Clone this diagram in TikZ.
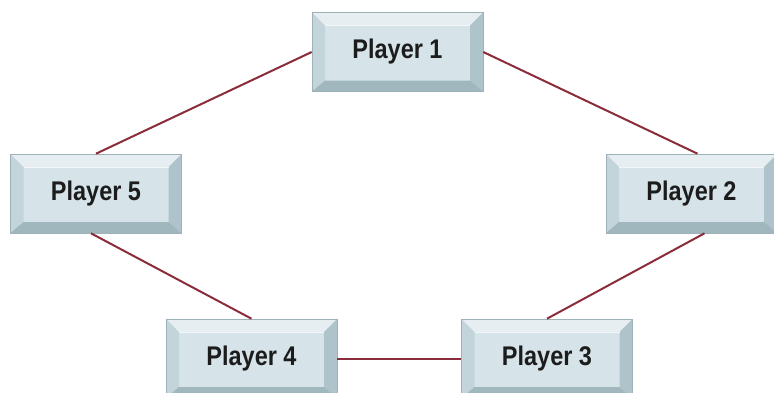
\documentclass[tikz,border=0pt]{standalone}
\usepackage{fontspec}
\setmainfont{Liberation Sans}
\newfontfamily\labelfont[FakeStretch=0.87]{Liberation Sans}
\usetikzlibrary{calc}
\definecolor{face}{HTML}{D6E4E9}
\definecolor{bevtop}{HTML}{E6EEF1}
\definecolor{bevleft}{HTML}{C3D5DA}
\definecolor{bevright}{HTML}{AEC4CA}
\definecolor{bevbot}{HTML}{9FB7BD}
\definecolor{rim}{HTML}{9DB2B8}
\definecolor{link}{HTML}{8A2C3A}
\definecolor{ink}{HTML}{1C1C1C}
\tikzset{
  keycap/.style={
    rectangle, minimum width=171pt, minimum height=79pt, inner sep=0pt,
    draw=rim, line width=0.6pt, fill=face,
    font=\labelfont\bfseries\fontsize{27}{30}\selectfont, text=ink,
    path picture={
      \coordinate (nw) at (path picture bounding box.north west);
      \coordinate (ne) at (path picture bounding box.north east);
      \coordinate (sw) at (path picture bounding box.south west);
      \coordinate (se) at (path picture bounding box.south east);
      \coordinate (inw) at ($(nw)+(13pt,-13pt)$);
      \coordinate (ine) at ($(ne)+(-13pt,-13pt)$);
      \coordinate (isw) at ($(sw)+(13pt,11pt)$);
      \coordinate (ise) at ($(se)+(-13pt,11pt)$);
      \fill[bevtop] (nw) -- (ne) -- (ine) -- (inw) -- cycle;
      \fill[bevleft] (nw) -- (inw) -- (isw) -- (sw) -- cycle;
      \fill[bevright] (ne) -- (ine) -- (ise) -- (se) -- cycle;
      \fill[bevbot] (sw) -- (isw) -- (ise) -- (se) -- cycle;
      \draw[white!70!face, line width=0.5pt] (inw) -- (ine);
    }
  },
  tie/.style={draw=link, line width=2pt}
}
\begin{document}
\begin{tikzpicture}[x=1pt, y=-1pt]
  \useasboundingbox (0,0) rectangle (774,392);
  % five players arranged in a ring
  \node[keycap] (p1) at (397.5,52) {Player 1};
  \node[keycap] (p2) at (691.5,193.5) {Player 2};
  \node[keycap] (p3) at (547,358.5) {Player 3};
  \node[keycap] (p4) at (251.5,358.5) {Player 4};
  \node[keycap] (p5) at (96,193.5) {Player 5};
  % links between neighbours
  \draw[tie] (p1.west) -- (p5.north);
  \draw[tie] (p1.east) -- ($(p2.north)+(6pt,0)$);
  \draw[tie] ($(p5.south)+(-5pt,0)$) -- (p4.north);
  \draw[tie] ($(p2.south)+(13pt,0)$) -- (p3.north);
  \draw[tie] (p4.east) -- (p3.west);
\end{tikzpicture}
\end{document}
